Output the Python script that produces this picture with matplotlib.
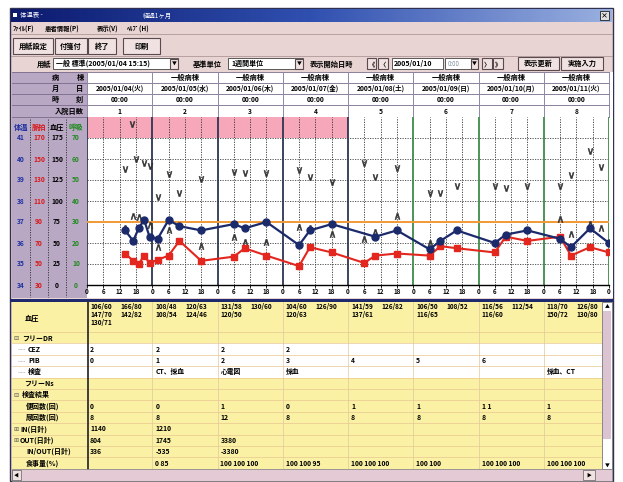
import matplotlib
matplotlib.use("Agg")
import matplotlib.pyplot as plt
from matplotlib.patches import Rectangle
from matplotlib import transforms
import numpy as np

plt.rcParams['font.family'] = ['Noto Sans CJK JP', 'DejaVu Sans']

# ---- header data ----
dates = ["2005/01/04(火)", "2005/01/05(水)", "2005/01/06(木)", "2005/01/07(金)",
         "2005/01/08(土)", "2005/01/09(日)", "2005/01/10(月)", "2005/01/11(火)"]
wards = ["", "一般病棟", "一般病棟", "一般病棟", "一般病棟", "一般病棟", "一般病棟", "一般病棟"]
times = ["00:00"] * 8
stay_days = [1, 2, 3, 4, 5, 6, 7, 8]

# ---- vital signs (hours from 2005/01/04 0:00) ----
temp_h = [14, 17, 19, 21, 23, 26, 30, 34, 42, 54, 58, 66, 78, 82, 90, 106, 114,
          126, 130, 136, 150, 154, 162, 174, 178, 185, 192]
temp = [36.6, 36.1, 36.7, 37.1, 36.3, 36.2, 37.1, 36.8, 36.6, 36.9, 36.7, 37.0, 35.9,
        36.6, 36.9, 36.3, 36.6, 35.7, 36.1, 36.6, 36.0, 36.4, 36.6, 36.2, 35.8, 36.7, 36.0]
pulse_h = [14, 17, 19, 21, 23, 26, 30, 34, 42, 54, 58, 66, 78, 82, 90, 102, 106, 114,
           126, 130, 136, 150, 154, 162, 174, 178, 185, 192]
pulse = [60, 53, 50, 58, 51, 54, 58, 72, 53, 57, 65, 58, 48, 66, 61, 51, 58, 60,
         58, 67, 65, 61, 76, 72, 76, 58, 66, 61]
sys_h = [14, 16.5, 18, 21, 23, 26, 30, 34, 42, 54, 58, 66, 78, 82, 90, 102, 106, 114,
         126, 130, 136, 150, 154, 162, 174, 178, 185, 189]
sys_bp = [138, 192, 150, 145, 142, 105, 132, 109, 126, 134, 133, 133, 137, 128, 123, 145,
          128, 139, 109, 109, 118, 118, 115, 118, 118, 131, 159, 141]
dia_h = [14, 17, 19, 23, 26, 30, 42, 54, 58, 66, 78, 82, 90, 102, 106, 114, 126, 130,
         174, 178, 185, 189]
dia_bp = [68, 82, 81, 71, 45, 65, 47, 57, 51, 51, 69, 68, 61, 55, 63, 82, 50, 53,
          78, 61, 73, 68]

temp_ticks = [34, 35, 36, 37, 38, 39, 40, 41]
pulse_ticks = [30, 50, 70, 90, 110, 130, 150, 170]
bp_ticks = [0, 25, 50, 75, 100, 125, 150, 175]
resp_ticks = [0, 10, 20, 30, 40, 50, 60, 70]

# ---- lower table ----
bp_text = [["106/60", "166/80", "147/70", "142/82", "130/71"],
           ["108/48", "120/63", "108/54", "124/46"],
           ["131/58", "130/60", "120/50"],
           ["104/60", "126/90", "120/63"],
           ["141/59", "126/82", "137/61"],
           ["106/50", "108/52", "116/65"],
           ["116/56", "112/54", "116/60"],
           ["118/70", "126/80", "150/72", "130/80"]]
row_labels = ["フリーDR", "CEZ", "PIB", "検査", "フリーNs", "検査結果", "便回数(回)",
              "尿回数(回)", "IN(日計)", "OUT(日計)", "IN/OUT(日計)", "食事量(%)"]
blank = [""] * 8
cez = ["2", "2", "2", "2", "", "", "", ""]
pib = ["0", "1", "2", "3", "4", "5", "6", ""]
kensa = ["", "CT、採血", "心電図", "採血", "", "", "", "採血、CT"]
stool = ["0", "0", "1", "0", "1", "1", "1 1", "1"]
urine = ["8", "8", "12", "8", "8", "8", "8", "8"]
in_day = ["1140", "1210", "", "", "", "", "", ""]
out_day = ["804", "1745", "3380", "", "", "", "", ""]
in_out = ["336", "-535", "-3380", "", "", "", "", ""]
meal = ["", "0 85", "100 100 100", "100 100 95", "100 100 100", "100 100",
        "100 100 100", "100 100 100"]
table_vals = [blank, cez, pib, kensa, blank, blank, stool, urine, in_day, out_day, in_out, meal]

W, H = 623, 482
fig = plt.figure(figsize=(W / 100, H / 100), dpi=100)
fig.patch.set_facecolor("white")
ui = fig.add_axes([0, 0, 1, 1])
ui.set_xlim(0, W)
ui.set_ylim(H, 0)
ui.axis("off")

FACE = "#e8d4d2"
PANEL = "#b9a8c4"
YELLOW = "#fbf1a4"
NAVY = "#1f2a6e"


def box(x, y, w, h, fc, ec="none", lw=0.8, z=1):
    ui.add_patch(Rectangle((x, y), w, h, facecolor=fc, edgecolor=ec, lw=lw, zorder=z))


def txt(x, y, s, size=5.2, color="black", ha="left", weight="bold", z=5, **kw):
    ui.text(x, y, s, fontsize=size, color=color, ha=ha, va="center",
            fontweight=weight, zorder=z, **kw)


def button(x, y, w, h, s, size=5.2):
    box(x, y, w, h, "#efe2e0", "#5a4a50", 0.8, z=2)
    txt(x + w / 2, y + h / 2, s, size=size, ha="center", z=3)


# window
box(10, 8, 603, 473, FACE, "#303050", 1.0)
grad = np.linspace(0, 1, 256).reshape(1, -1)
ui.imshow(grad, extent=(11, 612, 22, 9), aspect="auto",
          cmap=matplotlib.colors.LinearSegmentedColormap.from_list("t", ["#0c1a6e", "#3050b0", "#9ab0e0"]),
          zorder=2)
ui.set_xlim(0, W)
ui.set_ylim(H, 0)
box(13, 13, 4, 4, "white", z=3)
txt(20, 15.5, "体温表 -", size=4.6, color="white", weight="normal")
txt(143, 15.5, "経過1ヶ月", size=4.6, color="white", weight="normal")
box(600, 11, 9, 9, "#e0e0e0", "#202020", 0.6, z=3)
txt(604.5, 15.5, "×", size=5, ha="center", z=4)

# menu
for x, s in [(13, "ﾌｧｲﾙ(F)"), (45, "患者情報(P)"), (97, "表示(V)"), (127, "ﾍﾙﾌﾟ(H)")]:
    txt(x, 29, s, size=4.6)
ui.plot([11, 612], [33.5, 33.5], color="#b09898", lw=0.6, zorder=2)

# toolbar
button(13, 38, 40, 16, "用紙設定")
button(55, 38, 32, 16, "付箋付")
button(88, 38, 28, 16, "終了")
button(123, 38, 37, 16, "印刷")
ui.plot([11, 612], [56, 56], color="#b09898", lw=0.6, zorder=2)

# combo row
txt(37, 64, "用紙", size=5.2)
box(53, 58, 125, 11, "white", "#404040", 0.6, z=2)
txt(56, 63.5, "一般 標準(2005/01/04 15:15)", size=5.0)
button(170, 58.5, 8, 10, "▼", size=3.5)
txt(193, 64, "基準単位", size=5.2)
box(228, 58, 75, 11, "white", "#404040", 0.6, z=2)
txt(231, 63.5, "1週間単位", size=5.0)
button(295, 58.5, 8, 10, "▼", size=3.5)
txt(310, 64, "表示開始日時", size=5.2)
button(367, 58, 9, 11, "《", size=4.5)
button(378, 58, 10, 11, "〈", size=4.5)
box(392, 58, 51, 11, "white", "#404040", 0.6, z=2)
txt(394, 63.5, "2005/01/10", size=5.0)
box(445, 58, 33, 11, "white", "#404040", 0.6, z=2)
txt(448, 63.5, "0:00", size=4.5, color="#8090a0", weight="normal")
button(471, 58.5, 7, 10, "▼", size=3.5)
button(482, 58, 10, 11, "〉", size=4.5)
button(493, 58, 10, 11, "》", size=4.5)
button(518, 57, 41, 13, "表示更新")
button(561, 57, 42, 13, "実施入力")

# header table
day_x = [87 + i * 65.25 for i in range(9)]
box(12, 72, 75, 226, PANEL, z=1)
box(87, 72, 522, 45, "white", z=1)
row_y = [72, 83, 94, 105, 117]
for y in row_y:
    ui.plot([12, 609], [y, y], color="#7a6a8a", lw=0.6, zorder=3)
for xx in day_x:
    ui.plot([xx, xx], [72, 117], color="#8a8aa8", lw=0.7, zorder=3)
hdr_labels = [("病", "棟"), ("月", "日"), ("時", "刻")]
for (a, b), y in zip(hdr_labels, [77.5, 88.5, 99.5]):
    txt(55, y, a, size=5.2, ha="center")
    txt(80, y, b, size=5.2, ha="center")
txt(84, 111, "入院日数", size=5.2, ha="right")
for i in range(8):
    cx = (day_x[i] + day_x[i + 1]) / 2
    txt(cx, 77.5, wards[i], size=5.2, ha="center")
    txt(cx, 88.5, dates[i], size=4.8, ha="center")
    txt(cx, 99.5, times[i], size=4.8, ha="center")
    txt(cx, 111, str(stay_days[i]), size=4.8, ha="center")

# chart label panel
for xx in [30, 48, 66]:
    ui.plot([xx, xx], [119, 297], color="#303030", lw=0.6, ls=(0, (1.5, 1.5)), zorder=3)
for x, s, c in [(21, "体温", "#1c2fa0"), (39, "脈拍", "#d81818"), (57, "血圧", "black"), (76, "呼吸", "#1f8a1f")]:
    txt(x, 127, s, size=5.2, color=c, ha="center")

# chart
x0, x1, yt, yb = 87, 609, 117, 285
ax = fig.add_axes([x0 / W, 1 - yb / H, (x1 - x0) / W, (yb - yt) / H])
ax.set_xlim(0, 192)
ax.set_ylim(34, 42)
ax.set_facecolor("white")
ax.fill_between([0, 96], 41, 42, color="#f6a7b9", zorder=0, lw=0)
for t in range(35, 42):
    ax.axhline(t, color="#404040", lw=0.6, ls=(0, (1.5, 1.5)), zorder=1)
for h in range(0, 193, 6):
    if h % 24 == 0:
        c = "#2d3550" if h <= 96 else "#3e8a4a"
        ax.axvline(h, color=c, lw=1.3, zorder=1)
    else:
        ax.axvline(h, color="#303030", lw=0.6, ls=(0, (1.5, 1.5)), zorder=1)
ax.axhline(37, color="#f39a36", lw=1.4, zorder=2)

to_t_pulse = lambda p: 34 + (np.array(p) - 30) / 20.0
to_t_bp = lambda b: 34 + np.array(b) / 25.0
ax.plot(sys_h, to_t_bp(sys_bp), ls="none", marker=r"$\vee$", ms=4.4, mew=0.4, color="#333333", zorder=3)
ax.plot(dia_h, to_t_bp(dia_bp), ls="none", marker=r"$\wedge$", ms=4.4, mew=0.4, color="#333333", zorder=3)
ax.plot(pulse_h, to_t_pulse(pulse), color="#e3261e", lw=1.5, marker="s", ms=4, zorder=4)
ax.plot(temp_h, temp, color="#1b2a6b", lw=1.6, marker="o", ms=5, zorder=5)

ax.set_xticks(range(0, 193, 6))
ax.set_xticklabels([str(h % 24) for h in range(0, 193, 6)], fontsize=4.5, fontweight="bold")
ax.tick_params(axis="x", length=2, pad=0.5, width=0.6)
ax.set_yticks([])
for s in ["left", "right", "top"]:
    ax.spines[s].set_visible(False)
ax.spines["bottom"].set_linewidth(1.0)

box(87, 285, 526, 13, "white", z=1)
box(609, 72, 4, 226, "white", z=1)

# scale labels on the left, tied to the chart's y scale
trans = transforms.blended_transform_factory(ui.transData, ax.transData)
for t, p, b, r in zip(temp_ticks, pulse_ticks, bp_ticks, resp_ticks):
    ui.text(21, t, str(t), transform=trans, fontsize=4.8, color="#1c2fa0", ha="center", va="center", fontweight="bold")
    ui.text(39, t, str(p), transform=trans, fontsize=4.8, color="#d81818", ha="center", va="center", fontweight="bold")
    ui.text(57, t, str(b), transform=trans, fontsize=4.8, color="black", ha="center", va="center", fontweight="bold")
    ui.text(76, t, str(r), transform=trans, fontsize=4.8, color="#1f8a1f", ha="center", va="center", fontweight="bold")

# separator
box(10, 299, 603, 3, NAVY, z=3)

# lower table
box(12, 302, 590, 167, YELLOW, z=1)
row_h = 11.4
r0 = 332
box(12, r0 + row_h, 590, row_h * 3, "white", z=1)
for k in range(13):
    y = r0 + k * row_h
    ui.plot([12, 602], [y, y], color="#e8c890", lw=0.5, zorder=2)
for xx in day_x[1:-1]:
    ui.plot([xx, xx], [302, 469], color="#e0c8a0", lw=0.5, zorder=2)
ui.plot([88, 88], [302, 469], color="#303030", lw=1.3, zorder=3)

txt(25, 318, "血圧", size=5.2)
indent = [22, 28, 28, 28, 24, 22, 26, 26, 20, 20, 26, 26]
prefix = {0: "⊟", 5: "⊟", 8: "⊞", 9: "⊞"}
for k, lab in enumerate(row_labels):
    y = r0 + (k + 0.5) * row_h
    if k in prefix:
        txt(13, y, prefix[k], size=4.5, color="#606060", weight="normal")
    if k in (1, 2, 3):
        ui.plot([18, 25], [y, y], color="#909090", lw=0.5, ls=(0, (1, 1)), zorder=3)
    txt(indent[k], y, lab, size=5.0)
    for i in range(8):
        if table_vals[k][i]:
            txt(day_x[i] + 3, y, table_vals[k][i], size=4.9)

for i in range(8):
    for j, s in enumerate(bp_text[i]):
        txt(day_x[i] + 3 + (j % 2) * 30, 307 + (j // 2) * 7.5, s, size=4.7)

# scroll bars
box(602, 302, 10, 167, "white", "#606060", 0.5, z=4)
box(603, 311, 8, 128, "#dcc3d2", z=4)
txt(607, 306, "▲", size=3.5, ha="center", z=5)
txt(607, 465, "▼", size=3.5, ha="center", z=5)
box(12, 469, 600, 12, "#e3cad4", "#808080", 0.5, z=4)
box(12, 470, 9, 10, "#efe2e0", "#606060", 0.5, z=5)
txt(16.5, 475, "◀", size=3.5, ha="center", z=6)
box(583, 470, 12, 10, "#efe2e0", "#606060", 0.5, z=5)
txt(589, 475, "▶", size=3.5, ha="center", z=6)

fig.savefig("out.png", dpi=100)
